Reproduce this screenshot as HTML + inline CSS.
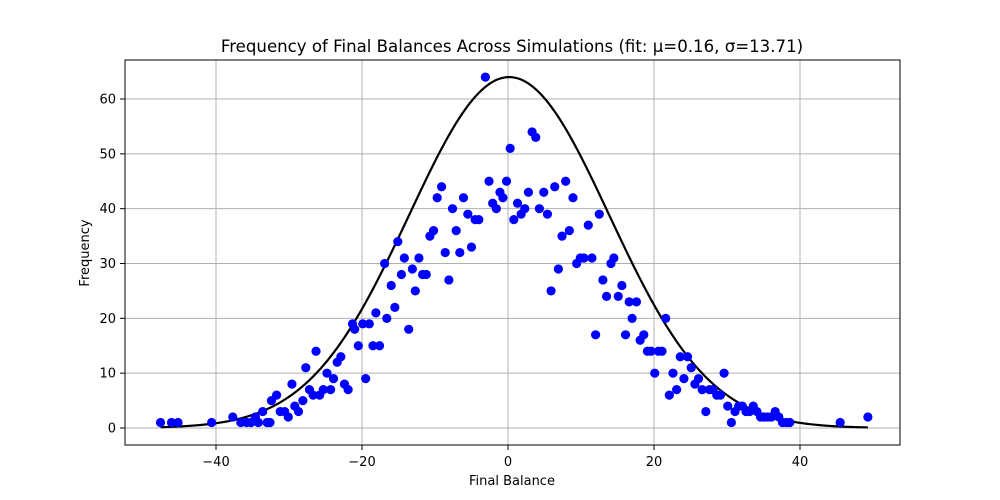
<!DOCTYPE html>
<html><head><meta charset="utf-8"><style>
body{margin:0;background:#fff;}
svg{display:block;font-family:"DejaVu Sans","Liberation Sans",sans-serif;}
</style></head><body>
<svg id="chart" width="1000" height="500" xmlns="http://www.w3.org/2000/svg">
<rect width="1000" height="500" fill="#fff"/>
<g id="grid"></g>
<g id="curve"></g>
<g id="points"></g>
<rect x="125" y="60" width="775" height="385" fill="none" stroke="#000" stroke-width="1"/>
<g id="xticks"></g>
<g id="yticks"></g>
<text x="512" y="52" font-size="16.6" text-anchor="middle">Frequency of Final Balances Across Simulations (fit: μ=0.16, σ=13.71)</text>
<text x="512" y="485" font-size="13" text-anchor="middle">Final Balance</text>
<text x="89" y="253" font-size="13" text-anchor="middle" transform="rotate(-90 89 253)">Frequency</text>
</svg>
<script>
const balances=[-47.6,-46.1,-45.2,-40.6,-37.7,-36.6,-35.8,-35.2,-34.6,-34.2,-33.6,-33.0,-32.6,-32.4,-31.7,-31.2,-30.6,-30.1,-29.6,-29.2,-28.7,-28.1,-27.7,-27.2,-26.7,-26.3,-25.8,-25.3,-24.8,-24.3,-23.9,-23.4,-22.9,-22.4,-21.9,-21.3,-21.0,-20.5,-19.9,-19.5,-19.0,-18.5,-18.1,-17.6,-16.9,-16.6,-16.0,-15.5,-15.1,-14.6,-14.2,-13.6,-13.1,-12.7,-12.2,-11.7,-11.2,-10.7,-10.2,-9.7,-9.1,-8.6,-8.1,-7.6,-7.1,-6.6,-6.1,-5.5,-5.0,-4.5,-4.0,-3.1,-2.6,-2.1,-1.6,-1.1,-0.7,-0.2,0.3,0.8,1.3,1.8,2.3,2.8,3.3,3.8,4.3,4.9,5.4,5.9,6.4,6.9,7.4,7.9,8.4,8.9,9.4,9.9,10.4,11.0,11.5,12.0,12.5,13.0,13.5,14.1,14.5,15.1,15.6,16.1,16.6,17.0,17.6,18.1,18.6,19.1,19.6,20.1,20.6,21.1,21.6,22.1,22.6,23.1,23.6,24.1,24.6,25.1,25.6,26.1,26.6,27.1,27.6,28.1,28.6,29.1,29.6,30.1,30.6,31.1,31.6,32.1,32.6,33.1,33.6,34.1,34.6,35.1,35.6,36.1,36.6,37.1,37.6,38.1,38.6,45.5,49.3];
const frequencies=[1,1,1,1,2,1,1,1,2,1,3,1,1,5,6,3,3,2,8,4,3,5,11,7,6,14,6,7,10,7,9,12,13,8,7,19,18,15,19,9,19,15,21,15,30,20,26,22,34,28,31,18,29,25,31,28,28,35,36,42,44,32,27,40,36,32,42,39,33,38,38,64,45,41,40,43,42,45,51,38,41,39,40,43,54,53,40,43,39,25,44,29,35,45,36,42,30,31,31,37,31,17,39,27,24,30,31,24,26,17,23,20,23,16,17,14,14,10,14,14,20,6,10,7,13,9,13,11,8,9,7,3,7,7,6,6,10,4,1,3,4,4,3,3,4,3,2,2,2,2,3,2,1,1,1,1,2];
const fitParams=[0.16,13.71,64];
const xTickValues=[-40,-20,0,20,40];
const yTickValues=[0,10,20,30,40,50,60];
const NS="http://www.w3.org/2000/svg";
const xs=v=>508+v*7.3;
const ys=v=>428-v*5.483;
function mk(tag,attrs,parent){const e=document.createElementNS(NS,tag);for(const k in attrs)e.setAttribute(k,attrs[k]);parent.appendChild(e);return e;}
const grid=document.getElementById('grid'),xt=document.getElementById('xticks'),yt=document.getElementById('yticks');
xTickValues.forEach(v=>{
  const x=xs(v);
  const g=mk('line',{x1:x,x2:x,y1:60,y2:445,stroke:'#b0b0b0','stroke-width':1},grid);
  
  
  const t=mk('line',{x1:x,x2:x,y1:445,y2:450,stroke:'#000'},xt);
  
  
  const l=mk('text',{x:x,y:466,'font-size':13,'text-anchor':'middle'},xt);
  
  
  l.textContent=(v<0?'\u2212'+(-v):v);
});
yTickValues.forEach(v=>{
  const y=ys(v);
  const g=mk('line',{x1:125,x2:900,y1:y,y2:y,stroke:'#b0b0b0','stroke-width':1},grid);
  
  
  const t=mk('line',{x1:120,x2:125,y1:y,y2:y,stroke:'#000'},yt);
  
  
  const l=mk('text',{x:116,y:y+4.5,'font-size':13,'text-anchor':'end'},yt);
  
  
  l.textContent=v;
});
const pts=document.getElementById('points');
balances.forEach((b,i)=>{
  const c=mk('circle',{cx:xs(b),cy:ys(frequencies[i]),r:4.6,fill:'#0000ff'},pts);
  
  
});
const mn=Math.min(...balances),mx=Math.max(...balances);
let d='';
for(let i=0;i<=300;i++){const v=mn+(mx-mn)*i/300;const f=fitParams[2]*Math.exp(-((v-fitParams[0])**2)/(2*fitParams[1]**2));d+=(i?'L':'M')+xs(v).toFixed(2)+','+ys(f).toFixed(2);}
const p=mk('path',{d:d,fill:'none',stroke:'#000','stroke-width':2.2},document.getElementById('curve'));


</script>
</body></html>
